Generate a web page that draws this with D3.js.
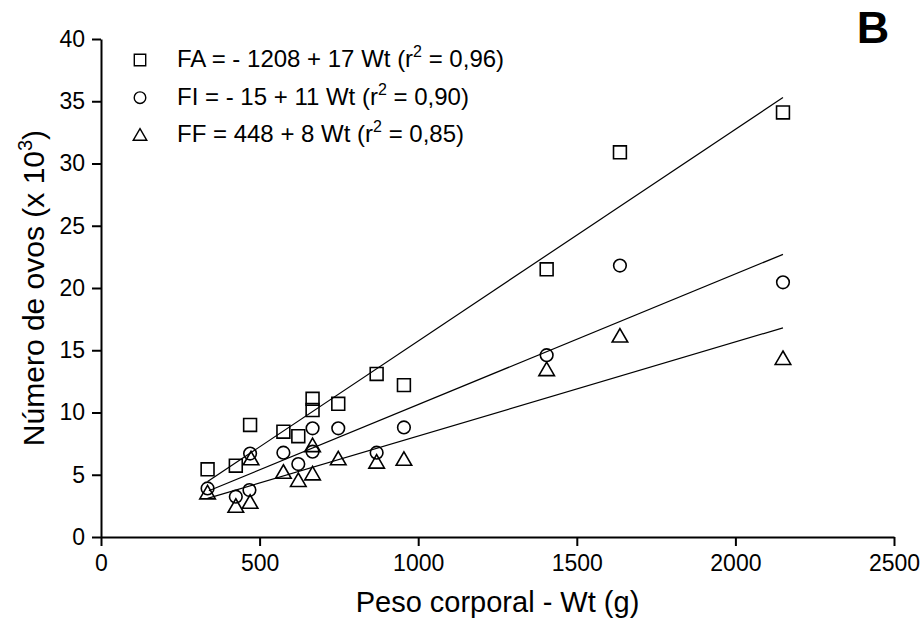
<!DOCTYPE html>
<html>
<head>
<meta charset="utf-8">
<script src="https://cdn.jsdelivr.net/npm/d3@7"></script>
<style>
  body { margin: 0; background: #fff; }
  text { font-family: "Liberation Sans", Arial, sans-serif; }
</style>
</head>
<body>
<div id="chart"></div>
<script>
// FA (squares): peso corporal (g) vs numero de ovos (x 10^3)
const faWt   = [336, 425, 470, 575, 622, 667, 667, 748, 869, 955, 1405, 1636, 2150];
const faOvos = [5.44, 5.73, 9.0, 8.46, 8.1, 11.1, 10.2, 10.7, 13.1, 12.2, 21.5, 30.9, 34.1];

// FI (circles)
const fiWt   = [336, 425, 470, 468, 575, 622, 667, 667, 748, 869, 955, 1405, 1636, 2150];
const fiOvos = [3.9, 3.24, 6.7, 3.77, 6.77, 5.86, 8.73, 6.85, 8.73, 6.77, 8.8, 14.6, 21.8, 20.46];

// FF (triangles)
const ffWt   = [336, 425, 473, 470, 575, 622, 667, 667, 748, 869, 955, 1405, 1636, 2150];
const ffOvos = [3.5, 2.43, 6.24, 2.75, 5.16, 4.5, 7.3, 5.03, 6.24, 5.97, 6.2, 13.4, 16.1, 14.3];

// regression lines as drawn (endpoints)
const fitFA = [[336, 4.45], [2150, 35.3]];
const fitFI = [[340, 3.72], [2150, 22.7]];
const fitFF = [[336, 3.1], [2150, 16.8]];

const xTicks = [0, 500, 1000, 1500, 2000, 2500];
const yTicks = [0, 5, 10, 15, 20, 25, 30, 35, 40];

const legendRows = [
  { sym: "square",   pre: "FA = - 1208 + 17 Wt (r", post: " = 0,96)" },
  { sym: "circle",   pre: "FI = - 15 + 11 Wt (r",   post: " = 0,90)" },
  { sym: "triangle", pre: "FF = 448 + 8 Wt (r",     post: " = 0,85)" }
];

const width = 922, height = 625;
const mLeft = 101, mRight = 894, mTop = 39, mBottom = 537;

const svg = d3.select("#chart").append("svg")
  .attr("width", width)
  .attr("height", height);

const x = d3.scaleLinear().domain([0, 2500]).range([mLeft, mRight]);
const y = d3.scaleLinear().domain([0, 40]).range([mBottom, mTop]);

// axes
const xAxis = g => g
  .attr("transform", `translate(0,${mBottom})`)
  .call(d3.axisBottom(x).tickValues(xTicks).tickFormat(d3.format("d"))
    .tickSize(9).tickPadding(9).tickSizeOuter(0));
const yAxis = g => g
  .attr("transform", `translate(${mLeft},0)`)
  .call(d3.axisLeft(y).tickValues(yTicks).tickFormat(d3.format("d"))
    .tickSize(9).tickPadding(7).tickSizeOuter(0));

[xAxis, yAxis].forEach(ax => {
  const g = svg.append("g").call(ax);
  g.selectAll("path, line").attr("stroke", "#000").attr("stroke-width", 2);
  g.selectAll("text").attr("font-size", 23).attr("fill", "#000")
    .style("font-family", "'Liberation Sans', Arial, sans-serif");
});

// regression lines
const line = d3.line().x(d => x(d[0])).y(d => y(d[1]));
[fitFA, fitFI, fitFF].forEach(f => {
  svg.append("path").datum(f)
    .attr("d", line)
    .attr("fill", "none")
    .attr("stroke", "#000")
    .attr("stroke-width", 1.2);
});

// symbols
const symType = { square: d3.symbolSquare, circle: d3.symbolCircle, triangle: d3.symbolTriangle };
const symSize = { square: 165, circle: 125, triangle: 105 };

function drawSeries(wt, ovos, sym) {
  const gen = d3.symbol().type(symType[sym]).size(symSize[sym]);
  svg.append("g").selectAll("path")
    .data(wt.map((w, i) => [w, ovos[i]]))
    .join("path")
    .attr("d", gen)
    .attr("transform", d => `translate(${x(d[0])},${y(d[1]) + (sym === "triangle" ? 1 : 0)})`)
    .attr("fill", "none")
    .attr("stroke", "#000")
    .attr("stroke-width", 1.6);
}
drawSeries(faWt, faOvos, "square");
drawSeries(fiWt, fiOvos, "circle");
drawSeries(ffWt, ffOvos, "triangle");

// legend
const legSize = { square: 130, circle: 105, triangle: 80 };
const leg = svg.append("g");
legendRows.forEach((r, i) => {
  const base = 67 + i * 37.7;
  leg.append("path")
    .attr("d", d3.symbol().type(symType[r.sym]).size(legSize[r.sym]))
    .attr("transform", `translate(140,${base - 7 + (r.sym === "triangle" ? 1 : 0)})`)
    .attr("fill", "none").attr("stroke", "#000").attr("stroke-width", 1.4);
  const t = leg.append("text")
    .attr("x", 177).attr("y", base)
    .attr("font-size", 24).attr("fill", "#000");
  t.append("tspan").text(r.pre);
  t.append("tspan").attr("font-size", 16).attr("dy", -10).text("2");
  t.append("tspan").attr("dy", 10).text(r.post);
});

// axis titles
svg.append("text")
  .attr("x", (mLeft + mRight) / 2).attr("y", 612)
  .attr("text-anchor", "middle")
  .attr("font-size", 29)
  .text("Peso corporal - Wt (g)");

const yt = svg.append("text")
  .attr("transform", `translate(44,${(mTop + mBottom) / 2}) rotate(-90)`)
  .attr("text-anchor", "middle")
  .attr("font-size", 30);
yt.append("tspan").text("Número de ovos (x 10");
yt.append("tspan").attr("font-size", 20).attr("dy", -12).text("3");
yt.append("tspan").attr("dy", 12).text(")");

// panel letter
svg.append("text")
  .attr("x", 873).attr("y", 43)
  .attr("text-anchor", "middle")
  .attr("font-size", 45).attr("font-weight", "bold")
  .text("B");
</script>
</body>
</html>
